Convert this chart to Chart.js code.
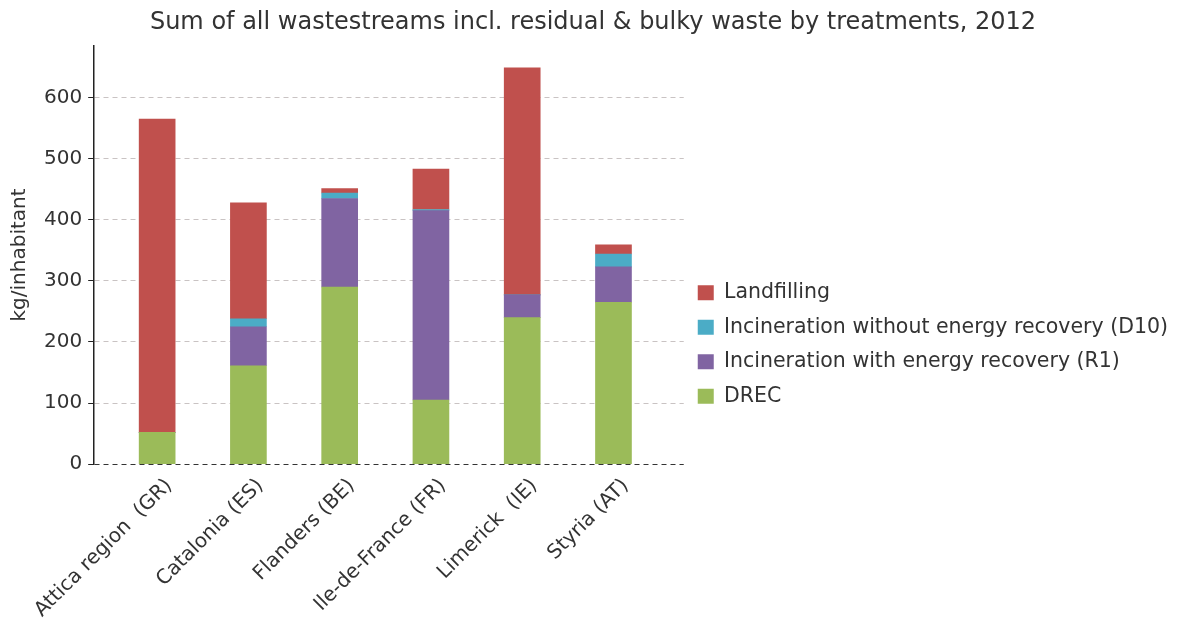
<!DOCTYPE html>
<html><head><meta charset="utf-8">
<script src="https://cdn.jsdelivr.net/npm/chart.js@4"></script>
<style>html,body{margin:0;padding:0;background:#fff}#wrap{width:1178px;height:624px;position:relative}</style>
</head><body><div id="wrap"><canvas id="c"></canvas></div>
<script>
const categories = ['Attica region  (GR)', 'Catalonia (ES)', 'Flanders (BE)', 'Ile-de-France (FR)', 'Limerick  (IE)', 'Styria (AT)'];
const drec = [52, 161, 290, 105, 240, 265];
const incinerationR1 = [0, 64, 145, 310, 37, 58];
const incinerationD10 = [0, 13, 9, 2, 0, 21];
const landfilling = [513, 190, 7, 66, 372, 15];
const yTicks = [0, 100, 200, 300, 400, 500, 600];

const FONT = 'DejaVu Sans';
const toPts = arr => arr.map((v, i) => ({x: i, y: v}));

const wideLegend = {
  id: 'wideLegend',
  beforeLayout(chart) {
    const lg = chart.legend;
    if (lg && !lg._wide) {
      const orig = lg.update.bind(lg);
      lg.update = (w, h, m) => orig(Math.max(w, 520), h, m);
      lg._wide = true;
    }
  }
};

new Chart(document.getElementById('c'), {
  type: 'bar',
  plugins: [wideLegend],
  data: {
    datasets: [
      {label: 'DREC', data: toPts(drec), backgroundColor: '#9bbb59'},
      {label: 'Incineration with energy recovery (R1)', data: toPts(incinerationR1), backgroundColor: '#8064a2'},
      {label: 'Incineration without energy recovery (D10)', data: toPts(incinerationD10), backgroundColor: '#4bacc6'},
      {label: 'Landfilling', data: toPts(landfilling), backgroundColor: '#c0504d'}
    ]
  },
  options: {
    responsive: true,
    maintainAspectRatio: false,
    animation: false,
    datasets: {bar: {barThickness: 36, borderWidth: 0}},
    layout: {padding: {left: 8, right: 0, top: 0, bottom: 0}},
    plugins: {
      title: {
        display: true,
        text: 'Sum of all wastestreams incl. residual & bulky waste by treatments, 2012',
        color: '#333',
        font: {family: FONT, size: 24, weight: 'normal'},
        padding: {top: 8, bottom: 9}
      },
      legend: {
        position: 'right',
        reverse: true,
        title: {display: true, text: ' ', font: {size: 10}, padding: {top: 53, bottom: 0}},
        labels: {
          boxWidth: 16, boxHeight: 15, padding: 14,
          color: '#333',
          font: {family: FONT, size: 20.5}
        }
      },
      tooltip: {enabled: false}
    },
    scales: {
      x: {
        type: 'linear',
        stacked: true,
        offset: false,
        min: -0.69,
        max: 5.77,
        afterBuildTicks: s => { s.ticks = categories.map((c, i) => ({value: i})); },
        ticks: {
          autoSkip: false,
          minRotation: 45, maxRotation: 45,
          color: '#333',
          font: {family: FONT, size: 20},
          padding: 2,
          labelOffset: 12,
          callback: v => categories[v]
        },
        grid: {display: false},
        border: {display: false}
      },
      y: {
        stacked: true,
        min: 0,
        max: 685,
        afterBuildTicks: s => { s.ticks = yTicks.map(v => ({value: v})); },
        ticks: {
          color: '#333',
          font: {family: FONT, size: 20},
          padding: 6
        },
        grid: {
          color: c => (c.tick && c.tick.value === 0) ? '#333' : '#c9c3c3',
          tickColor: '#222',
          tickLength: 6,
          tickBorderDash: [],
          lineWidth: 1
        },
        border: {display: true, color: '#222', width: 1.5, dash: [5, 4]},
        title: {
          display: true,
          text: 'kg/inhabitant',
          color: '#333',
          font: {family: FONT, size: 20},
          padding: {top: 0, bottom: 6}
        }
      }
    }
  }
});
</script>
</body></html>
